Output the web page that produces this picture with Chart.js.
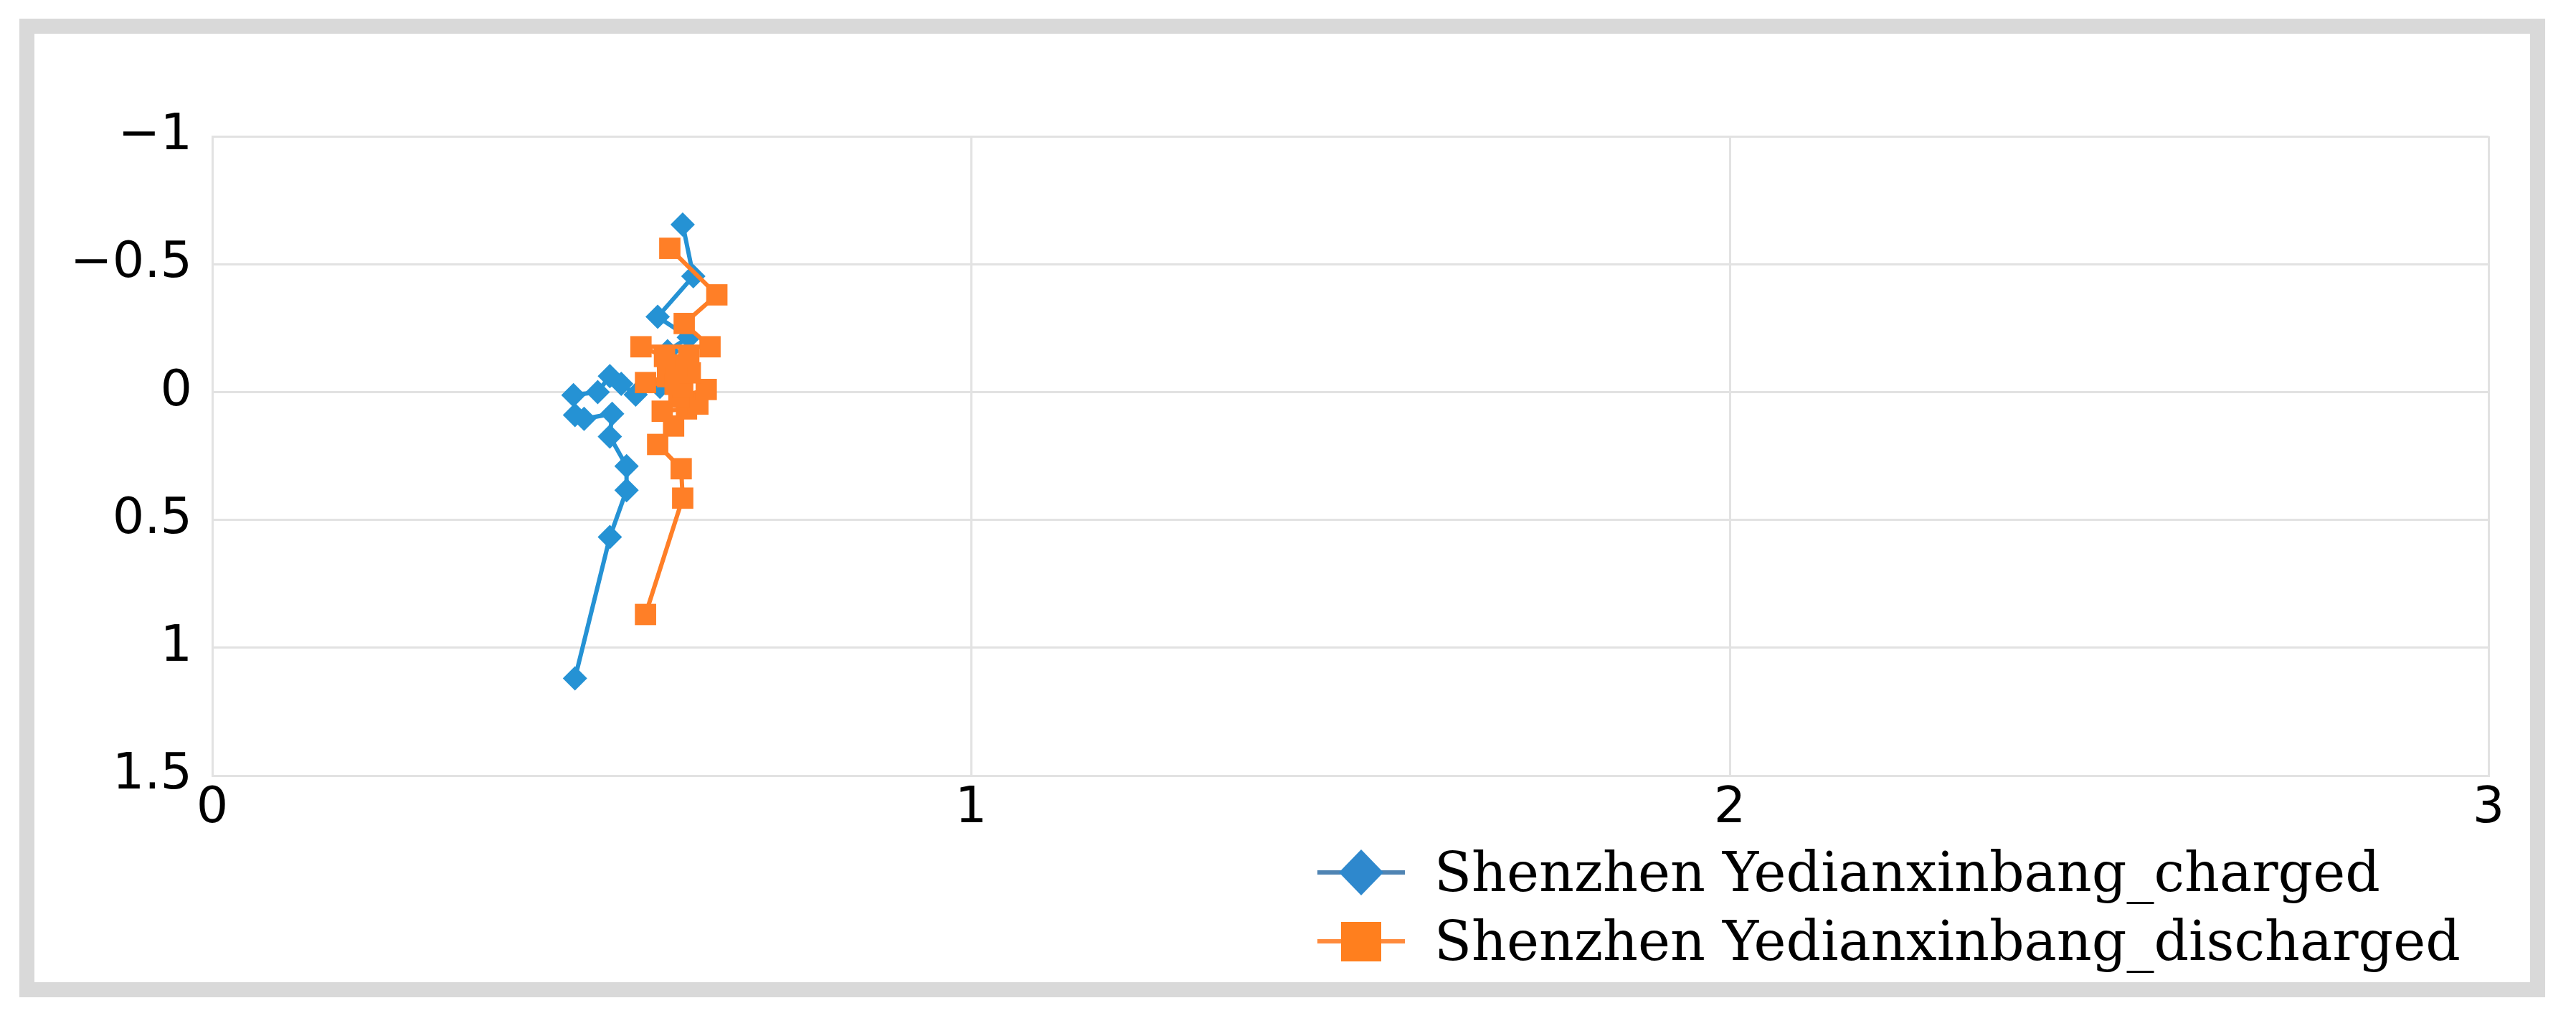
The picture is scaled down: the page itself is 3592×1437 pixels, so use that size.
<!DOCTYPE html>
<html>
<head>
<meta charset="utf-8">
<script src="https://cdn.jsdelivr.net/npm/chart.js@4.4.0/dist/chart.umd.min.js"></script>
<style>
html,body{margin:0;padding:0;background:#fff;}
#wrap{position:relative;width:3592px;height:1437px;overflow:hidden;background:#fff;}
#frame{position:absolute;left:27px;top:26px;width:3522px;height:1364px;box-sizing:border-box;border:21px solid #d9d9d9;}
#c{position:absolute;left:0;top:0;}
#legend{position:absolute;left:1837px;top:1168px;font-family:'DejaVu Serif',serif;font-size:76px;color:#000;}
#legend .item{display:flex;align-items:center;height:96px;line-height:96px;white-space:nowrap;}
#legend .item canvas{margin-right:41px;display:block;}
</style>
</head>
<body>
<div id="wrap">
  <div id="frame"></div>
  <canvas id="c" width="3592" height="1437"></canvas>
  <div id="legend"></div>
</div>
<script>
// ---- data ----
const seriesNames = ['Shenzhen Yedianxinbang_charged', 'Shenzhen Yedianxinbang_discharged'];

const chargedX = [0.478, 0.524, 0.546, 0.546, 0.524, 0.527, 0.490, 0.478, 0.476, 0.508, 0.524, 0.539, 0.558, 0.590, 0.600, 0.628, 0.587, 0.634, 0.620];
const chargedY = [1.120, 0.567, 0.384, 0.290, 0.174, 0.085, 0.105, 0.090, 0.012, 0.000, -0.062, -0.032, 0.010, -0.020, -0.160, -0.214, -0.294, -0.453, -0.655];

const dischargedX = [0.571, 0.620, 0.618, 0.587, 0.608, 0.593, 0.625, 0.640, 0.651, 0.615, 0.620, 0.571, 0.600, 0.610, 0.630, 0.612, 0.628, 0.596, 0.565, 0.656, 0.622, 0.665, 0.603];
const dischargedY = [0.870, 0.415, 0.300, 0.205, 0.133, 0.075, 0.066, 0.047, -0.010, 0.020, -0.020, -0.037, -0.060, -0.030, -0.075, -0.100, -0.139, -0.139, -0.177, -0.177, -0.268, -0.380, -0.562];

const xTickValues = [0, 1, 2, 3];
const xTickLabels = ['0', '1', '2', '3'];
const yTickValues = [-1, -0.5, 0, 0.5, 1, 1.5];
const yTickLabels = ['\u22121', '\u22120.5', '0', '0.5', '1', '1.5'];

// ---- styles ----
const BLUE = '#2592d4';
const ORANGE = '#ff7f27';
const GRID = '#e2e2e2';
const tickFont = {family: "'DejaVu Sans'", size: 70};

function toPoints(xs, ys) { return xs.map((x, i) => ({x: x, y: ys[i]})); }
function labelFor(values, labels, v) {
  for (let i = 0; i < values.length; i++) if (Math.abs(values[i] - v) < 1e-9) return labels[i];
  return '';
}

const chart = new Chart(document.getElementById('c').getContext('2d'), {
  type: 'scatter',
  data: {
    datasets: [
      {
        label: seriesNames[0],
        data: toPoints(chargedX, chargedY),
        showLine: true,
        borderColor: BLUE,
        backgroundColor: BLUE,
        borderWidth: 6,
        pointStyle: 'rectRot',
        pointRadius: 17,
        pointBorderWidth: 0,
        pointBackgroundColor: BLUE,
        order: 2
      },
      {
        label: seriesNames[1],
        data: toPoints(dischargedX, dischargedY),
        showLine: true,
        borderColor: ORANGE,
        backgroundColor: ORANGE,
        borderWidth: 6,
        pointStyle: 'rect',
        pointRadius: 21,
        pointBorderWidth: 0,
        pointBackgroundColor: ORANGE,
        order: 1
      }
    ]
  },
  options: {
    responsive: false,
    animation: false,
    devicePixelRatio: 1,
    layout: {padding: {left: 0, top: 190, right: 122, bottom: 0}},
    plugins: {legend: {display: false}, tooltip: {enabled: false}},
    scales: {
      x: {
        type: 'linear',
        min: 0, max: 3,
        afterBuildTicks: s => { s.ticks = xTickValues.map(v => ({value: v})); },
        afterFit: s => { s.height = 356; },
        ticks: {
          font: tickFont, color: '#000', padding: 5, maxRotation: 0,
          callback: v => labelFor(xTickValues, xTickLabels, v)
        },
        grid: {color: GRID, lineWidth: 3, drawTicks: false},
        border: {color: GRID, width: 3}
      },
      y: {
        type: 'linear',
        reverse: true,
        min: -1, max: 1.5,
        afterBuildTicks: s => { s.ticks = yTickValues.map(v => ({value: v})); },
        afterFit: s => { s.width = 296; },
        ticks: {
          font: tickFont, color: '#000', padding: 28,
          callback: v => labelFor(yTickValues, yTickLabels, v)
        },
        grid: {color: GRID, lineWidth: 3, drawTicks: false},
        border: {color: GRID, width: 3}
      }
    }
  }
});

// ---- HTML legend built from the chart's datasets ----
function makeIcon(ds) {
  const cv = document.createElement('canvas');
  cv.width = 122; cv.height = 70;
  const g = cv.getContext('2d');
  const cy = 35;
  g.strokeStyle = ds.pointStyle === 'rectRot' ? '#4f84b3' : '#ff8a3c';
  g.lineWidth = 6;
  g.beginPath(); g.moveTo(0, cy); g.lineTo(122, cy); g.stroke();
  g.fillStyle = ds.pointStyle === 'rectRot' ? '#2e88cd' : '#ff7f1e';
  g.beginPath();
  if (ds.pointStyle === 'rectRot') {
    g.moveTo(61, cy - 32); g.lineTo(92, cy); g.lineTo(61, cy + 32); g.lineTo(30, cy);
  } else {
    g.rect(61 - 28, cy - 27, 56, 55);
  }
  g.closePath(); g.fill();
  return cv;
}
const legendEl = document.getElementById('legend');
chart.data.datasets.forEach(ds => {
  const item = document.createElement('div');
  item.className = 'item';
  item.appendChild(makeIcon(ds));
  const span = document.createElement('span');
  span.textContent = ds.label;
  item.appendChild(span);
  legendEl.appendChild(item);
});
</script>
</body>
</html>
